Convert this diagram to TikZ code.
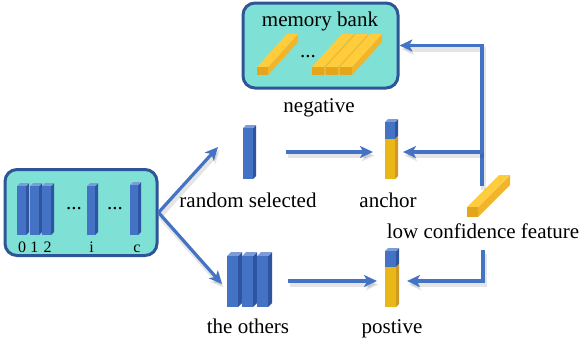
\documentclass[tikz,border=0pt]{standalone}
\usepackage{fontspec}
\setmainfont{Liberation Serif}
\usetikzlibrary{arrows.meta}
\definecolor{bfront}{HTML}{4472C4}
\definecolor{btop}{HTML}{7B9BDA}
\definecolor{bside}{HTML}{2F55A0}
\definecolor{yfront}{HTML}{E3A51C}
\definecolor{ytop}{HTML}{FFCD3C}
\definecolor{yside}{HTML}{F2B52A}
\definecolor{boxfill}{HTML}{7FE0D6}
\definecolor{boxline}{HTML}{2E5597}
\definecolor{arrowc}{HTML}{4472C4}
\newcommand\myvbar[5]{%
 \fill[bside] (#1+#3,#2) -- ++(#5,-#5) -- ++(0,#4) -- ++(-#5,#5) -- cycle;
 \fill[btop] (#1,#2) -- ++(#5,-#5) -- ++(#3,0) -- ++(-#5,#5) -- cycle;
 \fill[bfront] (#1,#2) rectangle ++(#3,#4);
}
\newcommand\mytbar[6]{%
 \fill[bside] (#1+#3,#2) -- ++(#6,-#6) -- ++(0,#4) -- ++(-#6,#6) -- cycle;
 \fill[yside!85!black] (#1+#3,#2+#4) -- ++(#6,-#6) -- ++(0,#5) -- ++(-#6,#6) -- cycle;
 \fill[btop] (#1,#2) -- ++(#6,-#6) -- ++(#3,0) -- ++(-#6,#6) -- cycle;
 \fill[bfront] (#1,#2) rectangle ++(#3,#4);
 \fill[yfront!80!yellow] (#1,#2+#4) rectangle ++(#3,#5);
}
\newcommand\mydbar[6]{%
 \fill[yside] (#1+#3,#2) -- ++(#5,-#6) -- ++(0,#4) -- ++(-#5,#6) -- cycle;
 \fill[ytop] (#1,#2) -- ++(#3,0) -- ++(#5,-#6) -- ++(-#3,0) -- cycle;
 \fill[yfront] (#1,#2) rectangle ++(#3,#4);
}
\begin{document}
\begin{tikzpicture}[x=1pt,y=-1pt,
 txt/.style={font=\fontsize{21}{24}\selectfont, inner sep=0pt, anchor=base},
 lbl/.style={font=\fontsize{16}{18}\selectfont, inner sep=0pt, anchor=base},
 arr/.style={draw=arrowc, line width=3.2pt, -{Stealth[length=13pt,width=12pt,inset=3.5pt]},
   preaction={draw=black, opacity=0.10, line width=5pt, transform canvas={shift={(1.5pt,-3.5pt)}}}},
 panel/.style={draw=boxline, fill=boxfill, line width=3pt, rounded corners=12pt, inner sep=0pt}]
\useasboundingbox (0,0) rectangle (581,349);
% panels
\node[panel, minimum width=155pt, minimum height=85pt] (mb) at (320.5,45.5) {};
\node[panel, minimum width=152pt, minimum height=86pt] (lb) at (81,212.5) {};
% memory bank content
\node[txt] (mbtext) at (320,26) {memory bank};
\mydbar{257}{67}{11}{8}{30}{33}
\node[txt] (mbdots) at (308,57) {...};
\mydbar{312}{67}{12}{8}{30}{33}
\mydbar{326}{67}{12}{8}{30}{33}
\mydbar{340}{67}{12}{8}{30}{33}
\node[txt] (neg) at (319,112) {negative};
% left box content
\myvbar{17}{186}{9}{49}{3}
\myvbar{30}{186}{9}{49}{3}
\myvbar{42}{186}{9}{49}{3}
\myvbar{87}{186}{8}{49}{3}
\myvbar{130}{185}{8}{50}{3}
\node[txt] (dots1) at (74,209) {...};
\node[txt] (dots2) at (115,209) {...};
\node[lbl] (l0) at (22,252) {0};
\node[lbl] (l1) at (34.5,252) {1};
\node[lbl] (l2) at (47.5,252) {2};
\node[lbl] (li) at (91.5,252) {i};
\node[lbl] (lc) at (137,252) {c};
% bars
\myvbar{243}{128}{10}{51}{3}
\node[txt] (rs) at (248,207) {random selected};
\mytbar{385}{122}{10}{17}{40}{3}
\node[txt] (anc) at (388,207) {anchor};
\myvbar{227}{256}{11}{51}{4}
\myvbar{242}{256}{11}{51}{4}
\myvbar{257}{256}{11}{51}{4}
\node[txt] (oth) at (248,333) {the others};
\mytbar{385}{251}{11}{16}{40}{3}
\node[txt] (pos) at (392,333) {postive};
\mydbar{467}{207}{11}{10}{32}{32}
\node[txt] (lcf) at (483,238) {low confidence feature};
% connector points
\coordinate (rsin) at (218,147);
\coordinate (otin) at (222,284);
\coordinate (rsout) at (286,152);
\coordinate (anin) at (373,152);
\coordinate (anr) at (403,152);
\coordinate (lcfup) at (482,186);
\coordinate (br1) at (482,152);
\coordinate (otout) at (288,281);
\coordinate (poin) at (377,281);
\coordinate (lcfdown) at (483,250);
\coordinate (por) at (407,281);
% connectors
\draw[arr] (lb.east) -- (rsin);
\draw[arr] (lb.east) -- (otin);
\draw[arr] (rsout) -- (anin);
\draw[arr] (lcfup) |- (mb.east);
\draw[arr] (br1) -- (anr);
\draw[arr] (otout) -- (poin);
\draw[arr] (lcfdown) |- (por);
\end{tikzpicture}
\end{document}
